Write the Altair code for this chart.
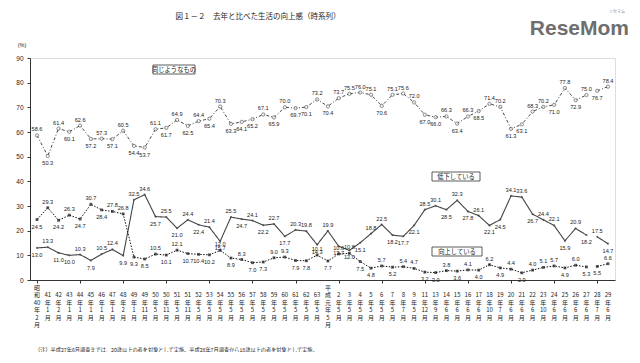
import altair as alt
import pandas as pd

# ---------------- data ----------------
eras = ["昭和"] + [""] * 26 + ["平成"] + [""] * 26
years = ["40", "41", "42", "43", "44", "45", "46", "47", "48", "49", "49",
         "50", "50", "51", "51", "52", "53", "54", "55", "56", "57", "58",
         "59", "60", "61", "62", "63", "元", "2", "3", "4", "5", "6", "7",
         "8", "9", "11", "13", "14", "15", "16", "17", "18", "19", "20",
         "21", "22", "23", "24", "25", "26", "27", "28", "29"]
months = ["2", "1", "2", "1", "1", "1", "1", "1", "2", "1",
          "11", "5", "11", "5", "11"] + ["5"] * 19 + \
         ["7", "5", "12", "9", "6", "6", "6", "6", "10", "7",
          "6", "6", "6", "10", "6", "6", "6", "6", "7", "6"]

same = [58.6, 50.3, 61.4, 60.1, 62.6, 57.2, 57.3, 57.1, 60.5, 54.4,
        53.7, 61.1, 61.7, 64.9, 62.5, 64.4, 65.4, 70.3, 63.3, 64.1,
        65.2, 67.1, 65.9, 70.0, 69.7, 70.1, 73.2, 70.4, 73.7, 75.5,
        76.0, 75.1, 70.6, 75.1, 75.6, 72.0, 67.0, 66.0, 66.3, 63.4,
        66.3, 68.5, 71.4, 70.2, 61.3, 63.1, 68.3, 70.2, 71.0, 77.8,
        72.9, 75.0, 76.7, 78.4]
down = [13.0, 13.3, 11.0, 10.0, 10.3, 7.9, 10.5, 12.4, 9.9, 32.5,
        34.6, 25.7, 25.5, 21.0, 24.4, 22.4, 21.4, 15.7, 25.5, 24.7,
        24.1, 22.2, 22.7, 17.7, 20.3, 19.8, 14.3, 19.9, 13.7, 12.0,
        15.1, 18.8, 22.5, 18.2, 17.7, 22.1, 28.5, 30.1, 28.5, 32.3,
        27.8, 26.1, 22.1, 24.5, 34.1, 33.6, 26.7, 24.4, 22.1, 15.9,
        20.9, 18.2, 17.5, 14.7]
up = [24.5, 29.3, 24.2, 26.3, 24.7, 30.7, 28.4, 27.8, 26.8, 9.3,
      8.5, 10.5, 10.1, 12.1, 10.7, 10.4, 10.2, 12.0, 8.9, 8.3,
      7.0, 7.3, 9.0, 9.3, 7.9, 7.8, 10.1, 7.7, 10.6, 10.8,
      7.5, 4.8, 5.7, 5.2, 5.4, 4.7, 3.2, 3.0, 3.8, 3.6,
      4.1, 4.0, 6.2, 4.9, 4.4, 2.9, 4.0, 5.1, 5.7, 4.9,
      6.0, 5.3, 5.5, 6.6]

series_names = {"same": "同じようなもの", "down": "低下している", "up": "向上している"}

n = len(same)
idx = list(range(1, n + 1))
seg = [0 if i <= 52 else 1 for i in idx]   # survey method changed at 平成28年7月


def build(key, vals):
    rows = []
    for i, v in enumerate(vals):
        s = seg[i]
        neigh = []
        if i > 0 and seg[i - 1] == s:
            neigh.append(vals[i - 1])
        if i < n - 1 and seg[i + 1] == s:
            neigh.append(vals[i + 1])
        pos = "above" if v >= sum(neigh) / len(neigh) else "below"
        rows.append(dict(idx=i + 1, value=v, series=key, seg=s, pos=pos))
    return rows


df = pd.DataFrame(build("same", same) + build("down", down) + build("up", up))

# x tick labels as vertical stacks
tick_text = []
for i in range(n):
    e = eras[i]
    if years[i] == "元":
        lines = ["平", "成"]
    elif e:
        lines = [e[0], e[1]]
    else:
        lines = [" ", " "]
    lines += [years[i], "年", months[i], "月"]
    tick_text.append("\n".join(lines))
ticks_df = pd.DataFrame({"idx": idx, "label": tick_text})

NUM_FONT = "Liberation Sans"
JP_FONT = "Noto Sans CJK JP"

W, H = 585, 222

x_scale = alt.Scale(domain=[0.35, 54.65], nice=False, zero=False)
x_enc = alt.X("idx:Q", scale=x_scale,
              axis=alt.Axis(values=idx, labels=False, title=None, grid=False,
                            tickSize=3, tickColor="#333", domainColor="#333"))
y_enc = alt.Y("value:Q",
              scale=alt.Scale(domain=[0, 90], nice=False),
              axis=alt.Axis(values=list(range(0, 91, 10)), title=None,
                            grid=False, labelFont=NUM_FONT, labelFontSize=6.5,
                            labelColor="#222", tickSize=3, tickColor="#333",
                            domainColor="#333", labelPadding=4))

base = alt.Chart(df)

styles = {
    "same": dict(color="#333", dash=[3, 2, 1, 2], width=0.9),
    "down": dict(color="#444", dash=[1, 0], width=1.1),
    "up": dict(color="#111", dash=[1.5, 1.5], width=1.0),
}

layers = []
for key, st in styles.items():
    sub = base.transform_filter(alt.datum.series == key)
    layers.append(sub.mark_line(color=st["color"], strokeWidth=st["width"],
                                strokeDash=st["dash"])
                  .encode(x=x_enc, y=y_enc, detail="seg:N"))

# markers
layers.append(base.transform_filter(alt.datum.series == "same")
              .mark_point(shape="circle", filled=True, fill="white",
                          stroke="#333", strokeWidth=0.8, size=11)
              .encode(x=x_enc, y=y_enc))
layers.append(base.transform_filter(alt.datum.series == "down")
              .mark_point(shape="circle", filled=True, color="#444", size=5)
              .encode(x=x_enc, y=y_enc))
layers.append(base.transform_filter(alt.datum.series == "up")
              .mark_point(shape="square", filled=True, color="#111", size=8)
              .encode(x=x_enc, y=y_enc))

# value labels
for pos, dy in (("above", -6), ("below", 7)):
    layers.append(base.transform_filter(alt.datum.pos == pos)
                  .mark_text(font=NUM_FONT, fontSize=5.6, color="#222",
                             dy=dy, baseline="middle")
                  .encode(x=x_enc, y=y_enc,
                          text=alt.Text("value:Q", format=".1f")))

# x tick labels (vertical stacks under the axis)
layers.append(alt.Chart(ticks_df)
              .mark_text(font=JP_FONT, fontSize=6, color="#222",
                         baseline="top", lineBreak="\n", lineHeight=7.4)
              .encode(x=alt.X("idx:Q", scale=x_scale),
                      y=alt.value(H + 5), text="label:N"))

one = pd.DataFrame({"a": [0]})

# series name boxes
boxes = [
    ("same", 123, 165, 7, 16),
    ("down", 402, 450, 114, 123),
    ("up", 402, 452, 189, 198),
]
for key, x1, x2, y1, y2 in boxes:
    layers.append(alt.Chart(one).mark_rect(fill="white", stroke="#333",
                                           strokeWidth=0.8)
                  .encode(x=alt.value(x1), x2=alt.value(x2),
                          y=alt.value(y1), y2=alt.value(y2)))
    layers.append(alt.Chart(one).mark_text(font=JP_FONT, fontSize=6.3,
                                           color="#222", baseline="middle")
                  .encode(x=alt.value((x1 + x2) / 2), y=alt.value((y1 + y2) / 2),
                          text=alt.value(series_names[key])))

# title, unit, note, watermark
layers.append(alt.Chart(one).mark_text(font=JP_FONT, fontSize=7.5, color="#222",
                                       baseline="middle")
              .encode(x=alt.value(228), y=alt.value(-41),
                      text=alt.value("図１－２　去年と比べた生活の向上感（時系列）")))
layers.append(alt.Chart(one).mark_text(font=NUM_FONT, fontSize=5.5, color="#222",
                                       baseline="middle")
              .encode(x=alt.value(-8), y=alt.value(-13), text=alt.value("(%)")))
layers.append(alt.Chart(one).mark_text(font=JP_FONT, fontSize=5.2, color="#222",
                                       baseline="middle", align="left")
              .encode(x=alt.value(5), y=alt.value(292),
                      text=alt.value("（注）平成27年6月調査までは、20歳以上の者を対象として実施。"
                                     "平成28年7月調査から18歳以上の者を対象として実施。")))
layers.append(alt.Chart(one).mark_text(font=NUM_FONT, fontSize=21, fontWeight="bold",
                                       color="#6e6e6e", baseline="middle",
                                       align="right")
              .encode(x=alt.value(W + 14), y=alt.value(-29), text=alt.value("ReseMom")))
layers.append(alt.Chart(one).mark_text(font=JP_FONT, fontSize=4, color="#8a8a8a",
                                       baseline="middle")
              .encode(x=alt.value(W + 2), y=alt.value(-46), text=alt.value("リセマム")))

chart = alt.layer(*layers).properties(
    width=W, height=H,
    autosize=alt.AutoSizeParams(type="none"),
    padding={"left": 22, "top": 50, "right": 17, "bottom": 72},
).configure_view(stroke=None).configure(background="white")

chart.save("out.html", embed_options={"renderer": "svg", "actions": False})
